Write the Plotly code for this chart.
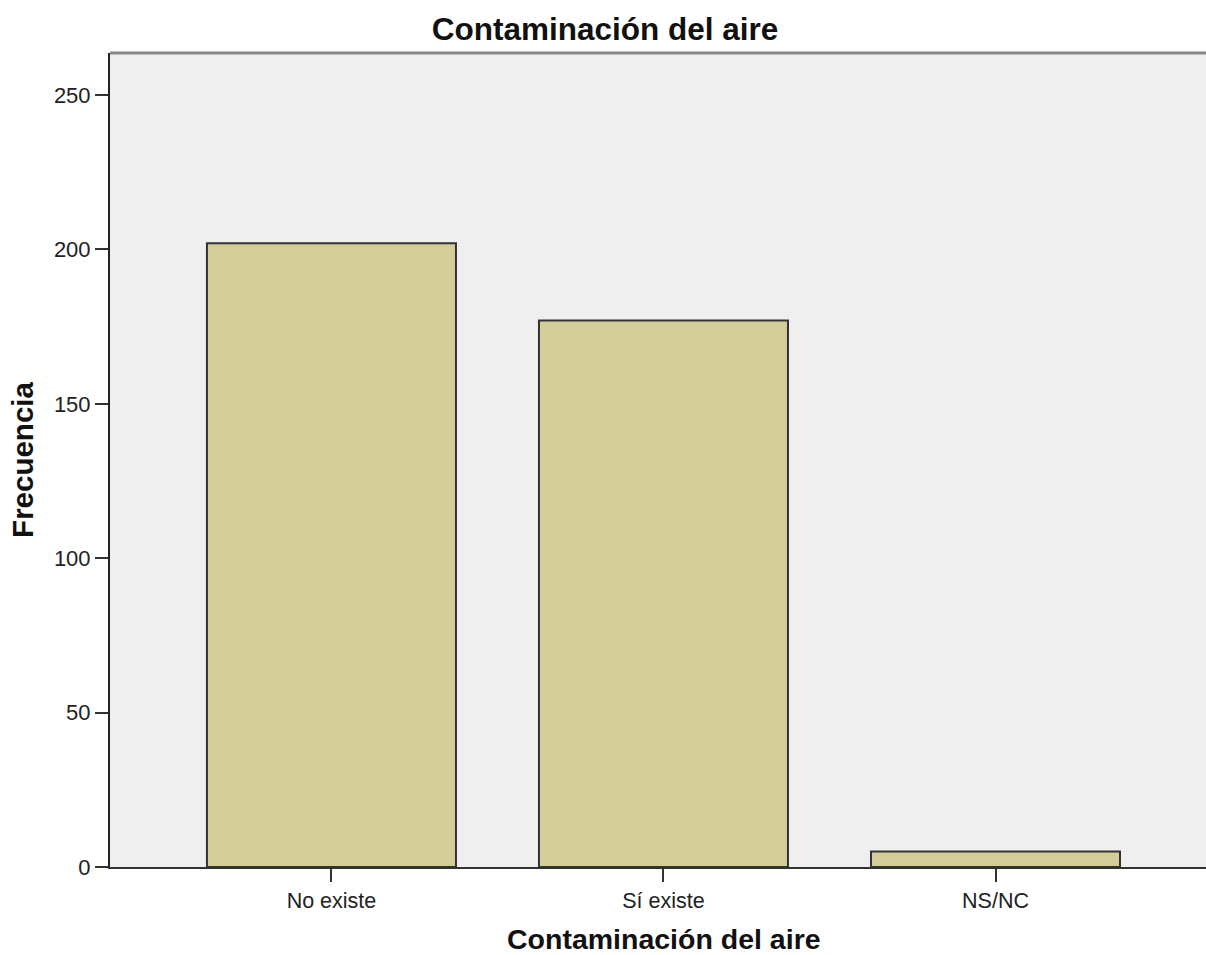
import plotly.graph_objects as go

categories = ["No existe", "Sí existe", "NS/NC"]
frecuencia = [202, 177, 5]
y_ticks = [0, 50, 100, 150, 200, 250]

title_text = "Contaminación del aire"
x_title = "Contaminación del aire"
y_title = "Frecuencia"

FONT = "Liberation Sans, Arial, sans-serif"

W, H = 1206, 955
L, T, B = 110, 53, 88

fig = go.Figure(
    go.Bar(
        x=categories,
        y=frecuencia,
        width=0.75,
        marker=dict(color="#D3CD98", line=dict(color="#333333", width=2)),
        hoverinfo="x+y",
    )
)

fig.update_layout(
    width=W,
    height=H,
    margin=dict(l=L, r=0, t=T, b=B, autoexpand=False),
    paper_bgcolor="white",
    plot_bgcolor="#EFEFEF",
    showlegend=False,
    title=dict(
        text=title_text,
        x=605 / W,
        xanchor="center",
        y=1 - 29 / H,
        yanchor="middle",
        yref="container",
        font=dict(family=FONT, size=31.5, color="#111111", weight="bold"),
    ),
    font=dict(family=FONT, color="#222222"),
)

fig.update_xaxes(
    type="category",
    range=[-0.667, 2.634],
    showline=True,
    linecolor="#333333",
    linewidth=2,
    ticks="outside",
    ticklen=13,
    tickwidth=2,
    tickcolor="#333333",
    tickfont=dict(family=FONT, size=21.5, color="#222222"),
    showgrid=False,
    zeroline=False,
    automargin=False,
)

# x-axis title (the original plot area extends slightly past the right edge,
# so its centred title sits a little right of the visible plot centre)
fig.add_annotation(
    text=x_title,
    xref="paper", yref="paper",
    x=(664 - L) / (W - L), y=-(939 - (H - B)) / (H - T - B),
    xanchor="center", yanchor="middle",
    showarrow=False,
    font=dict(family=FONT, size=28.5, color="#111111", weight="bold"),
)

fig.update_yaxes(
    range=[0, 263.6],
    tickvals=y_ticks,
    showline=True,
    linecolor="#222222",
    linewidth=2,
    ticks="outside",
    ticklen=13,
    tickwidth=2,
    tickcolor="#333333",
    tickfont=dict(family=FONT, size=22, color="#222222"),
    showgrid=False,
    zeroline=False,
    title=dict(
        text=y_title,
        font=dict(family=FONT, size=29.5, color="#111111", weight="bold"),
        standoff=12,
    ),
    automargin=False,
)

# top frame line of the plot area
fig.add_shape(
    type="line", xref="paper", yref="paper",
    x0=0, x1=1, y0=1, y1=1,
    line=dict(color="#888888", width=3),
)

fig.write_html(
    "out.html",
    config={"displayModeBar": False},
    post_script="document.body.style.margin='0';document.body.style.overflow='hidden';",
)
